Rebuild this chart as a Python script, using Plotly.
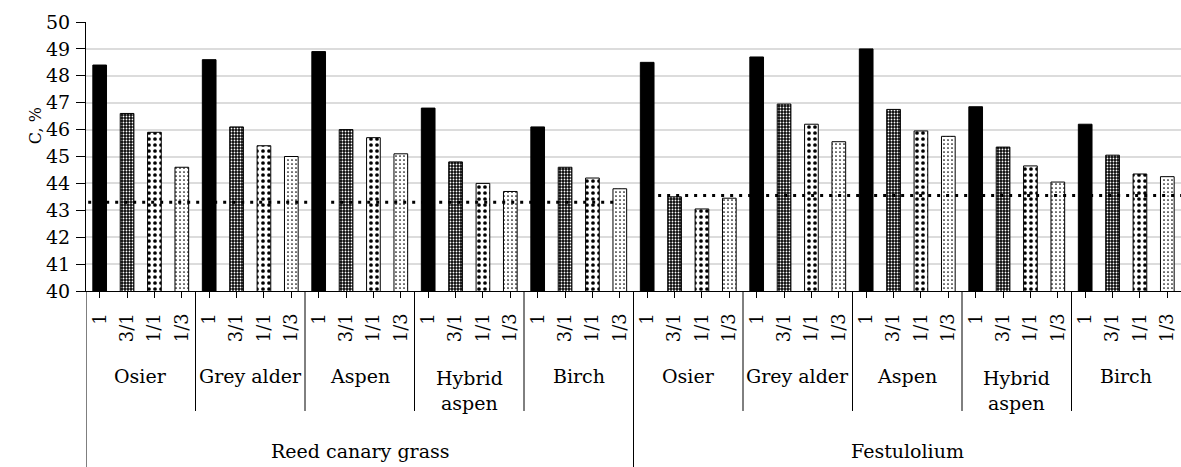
import plotly.graph_objects as go

# Carbon content (C, %) of grass + tree-leaf mixtures by mixing ratio
grasses = ["Reed canary grass", "Festulolium"]
species = ["Osier", "Grey alder", "Aspen", "Hybrid<br>aspen", "Birch"]
ratios = ["1", "3/1", "1/1", "1/3"]

# values per ratio, ordered grass -> species (10 groups)
c_ratio_1 = [48.4, 48.6, 48.9, 46.8, 46.1, 48.5, 48.7, 49.0, 46.85, 46.2]
c_ratio_3_1 = [46.6, 46.1, 46.0, 44.8, 44.6, 43.5, 46.95, 46.75, 45.35, 45.05]
c_ratio_1_1 = [45.9, 45.4, 45.7, 44.0, 44.2, 43.05, 46.2, 45.95, 44.65, 44.35]
c_ratio_1_3 = [44.6, 45.0, 45.1, 43.7, 43.8, 43.45, 45.55, 45.75, 44.05, 44.25]

# carbon content of pure grass (reference level)
grass_only = [43.3, 43.55]

series = [c_ratio_1, c_ratio_3_1, c_ratio_1_1, c_ratio_1_3]
patterns = [
    dict(shape="", bgcolor="black", fgcolor="black"),
    dict(shape=".", size=3, solidity=0.3, bgcolor="#0a0a0a", fgcolor="white", fillmode="replace"),
    dict(shape=".", size=6, solidity=0.3, bgcolor="white", fgcolor="black", fillmode="replace"),
    dict(shape=".", size=4, solidity=0.14, bgcolor="white", fgcolor="black", fillmode="replace"),
]

n_groups = len(grasses) * len(species)
n_r = len(ratios)
FONT = "DejaVu Serif"

fig = go.Figure()
for r, (vals, pat) in enumerate(zip(series, patterns)):
    xs = [g * n_r + r for g in range(n_groups)]
    fig.add_trace(go.Bar(
        x=xs, y=vals, width=0.5, name=ratios[r],
        marker=dict(color="black" if r < 2 else "white", pattern=pat,
                    line=dict(color="black", width=1)),
        showlegend=False,
    ))

# rotated tick labels: pad short ones so every label starts just under the axis
longest = max(len(t) for t in ratios)
padded = ["\u00a0" * (3 * (longest - len(t)) // 2) + t for t in ratios]
tickvals = list(range(n_groups * n_r))
ticktext = padded * n_groups

shapes = []
# separators between species groups
for g in range(1, n_groups):
    if g % len(species) == 0:
        continue
    shapes.append(dict(type="line", xref="x", yref="paper",
                       x0=g * n_r - 0.5, x1=g * n_r - 0.5, y0=0, y1=-0.446,
                       line=dict(color="black", width=1)))
# separators between grasses
for k in range(len(grasses)):
    xk = k * len(species) * n_r - 0.5
    shapes.append(dict(type="line", xref="x", yref="paper",
                       x0=xk, x1=xk, y0=0, y1=-0.66,
                       line=dict(color="black", width=1)))
# dotted pure-grass levels
dot_spans = [(-0.42, 18.9), (20.4, 39.5)]
for (x0, x1), lvl in zip(dot_spans, grass_only):
    shapes.append(dict(type="line", xref="x", yref="y",
                       x0=x0, x1=x1, y0=lvl, y1=lvl,
                       line=dict(color="black", width=3, dash="3px,6px")))

annotations = []
per_grass = len(species) * n_r
for k, gname in enumerate(grasses):
    for s, sname in enumerate(species):
        xc = k * per_grass + s * n_r + (n_r - 1) / 2
        two_line = "<br>" in sname
        annotations.append(dict(
            x=xc, y=-0.37 if two_line else -0.316, xref="x", yref="paper",
            text=sname, showarrow=False, yanchor="middle",
            font=dict(family=FONT, size=19, color="black")))
    annotations.append(dict(
        x=k * per_grass + (per_grass - 1) / 2, y=-0.595, xref="x", yref="paper",
        text=gname, showarrow=False, yanchor="middle",
        font=dict(family=FONT, size=19, color="black")))
annotations.append(dict(
    x=-0.046, y=0.615, xref="paper", yref="paper", text="C, %",
    textangle=-90, showarrow=False, xanchor="center", yanchor="middle",
    font=dict(family=FONT, size=16, color="black")))

fig.update_layout(
    width=1181, height=467,
    margin=dict(l=86, r=0, t=22, b=176),
    plot_bgcolor="white", paper_bgcolor="white",
    barmode="overlay",
    font=dict(family=FONT, size=18, color="black"),
    shapes=shapes, annotations=annotations,
    xaxis=dict(range=[-0.5, n_groups * n_r - 0.5], tickvals=tickvals, ticktext=ticktext,
               tickangle=-90, ticks="outside", ticklen=6, tickcolor="black",
               showline=True, linecolor="black", linewidth=1, showgrid=False,
               zeroline=False, ticklabelstandoff=8,
               tickfont=dict(family=FONT, size=18, color="black")),
    yaxis=dict(range=[40, 50], dtick=1, ticks="outside", ticklen=9, tickcolor="black",
               showline=True, linecolor="black", linewidth=1,
               showgrid=True, gridcolor="#dcdcdc", gridwidth=2, zeroline=False,
               ticklabelstandoff=2,
               tickfont=dict(family=FONT, size=19, color="black")),
)

fig.write_html("out.html")
